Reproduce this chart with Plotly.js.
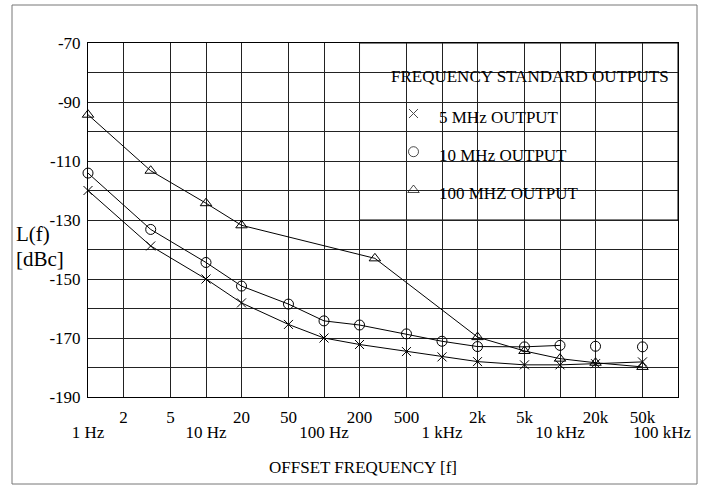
<!DOCTYPE html>
<html>
<head>
<meta charset="utf-8">
<script src="https://cdn.plot.ly/plotly-3.0.1.min.js"></script>
<style>
  html, body { margin: 0; padding: 0; background: #fff; }
  #chart { width: 706px; height: 485px; }
</style>
</head>
<body>
<div id="chart"></div>
<script>
// ---- data ----
const freq = [1, 3.4, 10, 20, 50, 100, 200, 500, 1000, 2000, 5000, 10000, 20000, 50000];
const out5MHz = [-120, -138.8, -150, -158.1, -165.4, -170, -172.2, -174.6, -176.4, -178, -179.1, -179.1, -178.7, -178.1];
const out10MHz = [-114.1, -133.2, -144.4, -152.4, -158.5, -164.2, -165.6, -168.6, -171.1, -172.9, -173, -172.5, -172.8, -173];
const freq100 = [1, 3.4, 10, 20, 270, 2000, 5000, 10000, 20000, 50000];
const out100MHz = [-94.3, -113.3, -124.3, -131.8, -143, -169.7, -174.4, -177, -178.4, -179.8];

const xGridVals = [1, 2, 5, 10, 20, 50, 100, 200, 500, 1000, 2000, 5000, 10000, 20000, 50000, 100000];
const xMinorText = ['', '2', '5', '', '20', '50', '', '200', '500', '', '2k', '5k', '', '20k', '50k', ''];
const xDecadeVals = [1, 10, 100, 1000, 10000];
const xDecadeText = ['1 Hz', '10 Hz', '100 Hz', '1 kHz', '10 kHz'];
const xEndVals = [100000];
const xEndText = ['100 kHz'];
const yTickVals = [-190, -180, -170, -160, -150, -140, -130, -120, -110, -100, -90, -80, -70];
const yTickText = ['-190', '', '-170', '', '-150', '', '-130', '', '-110', '', '-90', '', '-70'];

const legendTitle = 'FREQUENCY STANDARD OUTPUTS';
const legendNames = ['5 MHz OUTPUT', '10 MHz OUTPUT', '100 MHZ OUTPUT'];
const legendSymbols = ['x-thin', 'circle-open', 'triangle-up-open'];

// ---- geometry helpers (pixel -> paper) ----
const W = 706, H = 485;
const M = {l: 88, r: 28, t: 43, b: 88};
const PW = W - M.l - M.r, PH = H - M.t - M.b;
const px = v => (v - M.l) / PW;
const py = v => (H - M.b - v) / PH;

const FONT = "'Liberation Serif', 'Times New Roman', serif";
const black = '#000';
const FS = 17;

const lineStyle = {color: black, width: 1};
const mk = (sym, size) => ({symbol: sym, size: size, color: black, line: {color: black, width: 1}});

const traces = [
  {x: freq, y: out5MHz, mode: 'lines+markers', line: lineStyle, marker: mk('x-thin', 9),
   cliponaxis: false, showlegend: false, name: legendNames[0]},
  {x: freq.slice(0, 12), y: out10MHz.slice(0, 12), mode: 'lines', line: lineStyle,
   cliponaxis: false, showlegend: false, hoverinfo: 'skip'},
  {x: freq, y: out10MHz, mode: 'markers', marker: mk('circle-open', 10),
   cliponaxis: false, showlegend: false, name: legendNames[1]},
  {x: freq100, y: out100MHz, mode: 'lines+markers', line: lineStyle, marker: mk('triangle-up-open', 10),
   cliponaxis: false, showlegend: false, name: legendNames[2]},
  // legend symbols on an overlay (0..1) axis pair
  {x: [px(413.5), px(413.5), px(413.5)], y: [py(113.5), py(151.7), py(190)],
   xaxis: 'x2', yaxis: 'y2', mode: 'markers',
   marker: {symbol: legendSymbols, size: [9, 10, 10], color: black, line: {color: black, width: 1}},
   cliponaxis: false, showlegend: false, hoverinfo: 'skip'},
  // carriers for the decade tick-label row (no visible marks)
  {x: [], y: [], xaxis: 'x3', yaxis: 'y', mode: 'markers', showlegend: false, hoverinfo: 'skip'},
  {x: [], y: [], xaxis: 'x4', yaxis: 'y', mode: 'markers', showlegend: false, hoverinfo: 'skip'}
];

const ann = (text, x, y, anchor, size) => ({
  text: text, xref: 'paper', yref: 'paper', x: x, y: y, xanchor: anchor, yanchor: 'middle',
  showarrow: false, font: {family: FONT, size: size, color: black}
});

const annotations = [
  ann(legendTitle, px(388.5), py(76), 'left', FS),
  ann(legendNames[0], px(437), py(117.5), 'left', FS),
  ann(legendNames[1], px(437), py(155.5), 'left', FS),
  ann(legendNames[2], px(437), py(193.5), 'left', FS),
  ann('L(f)', px(14), py(234), 'left', 21),
  ann('[dBc]', px(14), py(258.5), 'left', 21),
  ann('OFFSET FREQUENCY [f]', px(362.5), py(467), 'center', FS)
];

const shapes = [
  // outer frame
  {type: 'rect', xref: 'paper', yref: 'paper', x0: px(12), x1: px(697), y0: py(484), y1: py(5),
   line: {color: '#777', width: 1}, fillcolor: 'rgba(0,0,0,0)', layer: 'below'},
  // legend box (white, above the grid)
  {type: 'rect', xref: 'paper', yref: 'y', x0: Math.log10(200) / 5, x1: 1, y0: -130, y1: -70,
   line: {color: black, width: 1}, fillcolor: '#fff', layer: 'between'}
];

const decadeAxis = (vals, text, shift) => ({
  type: 'log', range: [0, 5], overlaying: 'x', anchor: 'y', side: 'bottom',
  tickvals: vals, ticktext: text,
  showgrid: false, showline: false, zeroline: false,
  ticks: '', ticklabelstandoff: 23, ticklabelshift: shift, tickangle: 0, ticklabeloverflow: 'allow',
  tickfont: {family: FONT, size: FS, color: black}
});

const layout = {
  width: W, height: H,
  margin: M,
  paper_bgcolor: '#fff', plot_bgcolor: '#fff',
  font: {family: FONT, size: FS, color: black},
  showlegend: false,
  xaxis: {
    type: 'log', range: [0, 5],
    tickvals: xGridVals, ticktext: xMinorText,
    showgrid: true, gridcolor: '#222', gridwidth: 1,
    showline: true, linecolor: black, linewidth: 1, mirror: true,
    ticks: '', ticklabelstandoff: 5, zeroline: false, ticklabeloverflow: 'allow',
    tickfont: {family: FONT, size: FS, color: black}, tickangle: 0
  },
  xaxis3: decadeAxis(xDecadeVals, xDecadeText, 0),
  xaxis4: decadeAxis(xEndVals, xEndText, -16),
  yaxis: {
    range: [-190, -70],
    tickvals: yTickVals, ticktext: yTickText,
    showgrid: true, gridcolor: '#222', gridwidth: 1,
    showline: true, linecolor: black, linewidth: 1, mirror: true,
    ticks: '', ticklabelstandoff: 3, zeroline: false,
    tickfont: {family: FONT, size: FS, color: black}
  },
  xaxis2: {overlaying: 'x', range: [0, 1], visible: false, fixedrange: true},
  yaxis2: {overlaying: 'y', range: [0, 1], visible: false, fixedrange: true},
  shapes: shapes,
  annotations: annotations
};

Plotly.newPlot('chart', traces, layout, {displayModeBar: false, staticPlot: true});
</script>
</body>
</html>
